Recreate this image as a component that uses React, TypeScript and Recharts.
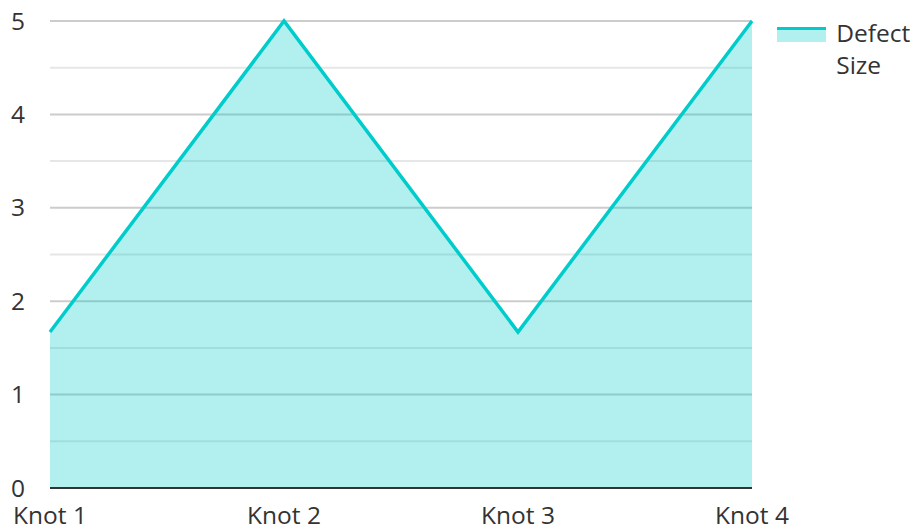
import React from "react"
import { Area, AreaChart, CartesianGrid, Legend, XAxis, YAxis } from "recharts"

const knots = ["Knot 1", "Knot 2", "Knot 3", "Knot 4"]
const defectSize = [1.67, 5, 1.67, 5]
const yTicks = [0, 1, 2, 3, 4, 5]
const minorLines = [0.5, 1.5, 2.5, 3.5, 4.5]

const data = knots.map((name, i) => ({ name, defect: defectSize[i] }))

const LINE = "#00CCCC"
const FONT = "'Open Sans', sans-serif"
const FS = 24.5

function DefectLegend() {
  return (
    <div style={{ display: "flex", alignItems: "flex-start", fontFamily: FONT, fontSize: FS, color: "#333" }}>
      <div style={{ width: 50, marginTop: 10, marginRight: 10 }}>
        <div style={{ height: 3, background: LINE }} />
        <div style={{ height: 12, background: LINE, opacity: 0.3 }} />
      </div>
      <div style={{ width: 80, lineHeight: "32px" }}>Defect Size</div>
    </div>
  )
}

export default function App() {
  return (
    <div style={{ position: "absolute", left: 0, top: 0, width: 915, height: 529, background: "#fff" }}>
      <AreaChart width={915} height={529} data={data} margin={{ top: 21, right: 163, left: 0, bottom: 0 }}>
        <CartesianGrid vertical={false} horizontalValues={minorLines} stroke="#e6e6e6" strokeWidth={2} />
        <CartesianGrid vertical={false} horizontalValues={yTicks} stroke="#cccccc" strokeWidth={2} />
        <XAxis
          dataKey="name"
          height={41}
          tickLine={false}
          tickSize={0}
          tickMargin={19}
          axisLine={{ stroke: "#333", strokeWidth: 2 }}
          tick={{ fontSize: FS, fill: "#333", fontFamily: FONT }}
          interval={0}
        />
        <YAxis
          width={50}
          domain={[0, 5]}
          ticks={yTicks}
          axisLine={false}
          tickLine={false}
          tickSize={0}
          tickMargin={25}
          tick={{ fontSize: FS, fill: "#333", fontFamily: FONT }}
        />
        <Legend
          layout="vertical"
          align="center"
          verticalAlign="middle"
          wrapperStyle={{ left: 777, top: 17, width: 138 }}
          content={() => <DefectLegend />}
        />
        <Area
          type="linear"
          dataKey="defect"
          name="Defect Size"
          stroke={LINE}
          strokeWidth={3.5}
          fill={LINE}
          fillOpacity={0.3}
          dot={false}
          activeDot={false}
          isAnimationActive={false}
        />
      </AreaChart>
    </div>
  )
}
